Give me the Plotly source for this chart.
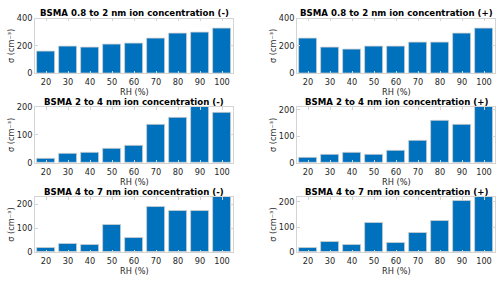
import plotly.graph_objects as go

rh = [20, 30, 40, 50, 60, 70, 80, 90, 100]

neg_08_2 = [157, 194, 187, 213, 220, 253, 288, 299, 325]
pos_08_2 = [253, 192, 175, 196, 199, 222, 229, 290, 327]
neg_2_4 = [16, 34, 37, 51, 63, 136, 160, 200, 179]
pos_2_4 = [22, 30, 38, 31, 47, 84, 159, 145, 211]
neg_4_7 = [20, 35, 30, 114, 59, 191, 173, 173, 231]
pos_4_7 = [19, 40, 29, 115, 38, 77, 126, 204, 220]

titles = [
    "BSMA 0.8 to 2 nm ion concentration (-)",
    "BSMA 0.8 to 2 nm ion concentration (+)",
    "BSMA 2 to 4 nm ion concentration (-)",
    "BSMA 2 to 4 nm ion concentration (+)",
    "BSMA 4 to 7 nm ion concentration (-)",
    "BSMA 4 to 7 nm ion concentration (+)",
]
series = [neg_08_2, pos_08_2, neg_2_4, pos_2_4, neg_4_7, pos_4_7]
y_max = [400, 400, 200, 211, 231, 220]
y_ticks = [[0, 200, 400], [0, 200, 400], [0, 100, 200], [0, 100, 200], [0, 100, 200], [0, 100, 200]]
x_title = "RH (%)"
y_title = "σ (cm⁻³)"

W, H = 500, 282
col_px = [(35, 233), (297, 495)]
row_px = [(14, 71), (105.5, 164), (199, 256.5)]
title_y = [8.5, 100.5, 193.5]

BAR = "#0072BD"
AX = "#d4d4d4"
TXT = "#262626"
FONT = "DejaVu Sans"

fig = go.Figure()
annotations = []
for i, (vals, ttl) in enumerate(zip(series, titles)):
    r, c = divmod(i, 2)
    n = i + 1
    xa = "x" if n == 1 else f"x{n}"
    ya = "y" if n == 1 else f"y{n}"
    fig.add_trace(go.Bar(
        x=rh, y=vals, width=8, xaxis=xa, yaxis=ya,
        marker=dict(color=BAR, line=dict(color="#cfcfcf", width=0.8)),
        showlegend=False, hoverinfo="x+y",
    ))
    x0, x1 = col_px[c]
    yt, yb = row_px[r]
    xkey = "xaxis" if n == 1 else f"xaxis{n}"
    ykey = "yaxis" if n == 1 else f"yaxis{n}"
    fig.update_layout({
        xkey: dict(
            domain=[x0 / W, x1 / W], anchor=ya, range=[15, 105],
            tickvals=rh, ticktext=[str(v) for v in rh],
            ticks="inside", ticklen=3, tickcolor=AX, tickwidth=0.8,
            showline=True, linecolor=AX, linewidth=0.8, mirror="ticks",
            showgrid=False, zeroline=False, fixedrange=True,
            ticklabelstandoff=1,
            tickfont=dict(family=FONT, size=8.2, color=TXT),
        ),
        ykey: dict(
            domain=[1 - yb / H, 1 - yt / H], anchor=xa, range=[0, y_max[i]],
            tickvals=y_ticks[i],
            ticks="inside", ticklen=3, tickcolor=AX, tickwidth=0.8,
            showline=True, linecolor=AX, linewidth=0.8, mirror="ticks",
            showgrid=False, zeroline=False, fixedrange=True,
            tickfont=dict(family=FONT, size=8.2, color=TXT),
        ),
    })
    annotations.append(dict(
        text=ttl, xref="paper", yref="paper",
        x=(x0 + x1) / 2 / W, y=1 - title_y[r] / H,
        xanchor="center", yanchor="middle", showarrow=False, borderpad=0,
        font=dict(family=FONT, size=8.6, color="#000000", weight="bold"),
    ))
    annotations.append(dict(
        text=x_title, xref="paper", yref="paper",
        x=(x0 + x1) / 2 / W, y=1 - (yb + 19.5) / H,
        xanchor="center", yanchor="middle", showarrow=False, borderpad=0,
        font=dict(family=FONT, size=8.2, color=TXT),
    ))
    annotations.append(dict(
        text=y_title, xref="paper", yref="paper",
        x=(x0 - 24) / W, y=1 - (yt + yb) / 2 / H, textangle=-90,
        xanchor="center", yanchor="middle", showarrow=False, borderpad=0,
        font=dict(family=FONT, size=8.2, color=TXT),
    ))

fig.update_layout(
    width=W, height=H, margin=dict(l=0, r=0, t=0, b=0),
    paper_bgcolor="white", plot_bgcolor="white",
    annotations=annotations, bargap=0,
)
fig.write_html(
    "out.html",
    config={"displayModeBar": False},
    post_script="document.body.style.margin='0';document.body.style.padding='0';document.body.style.overflow='hidden';",
)
